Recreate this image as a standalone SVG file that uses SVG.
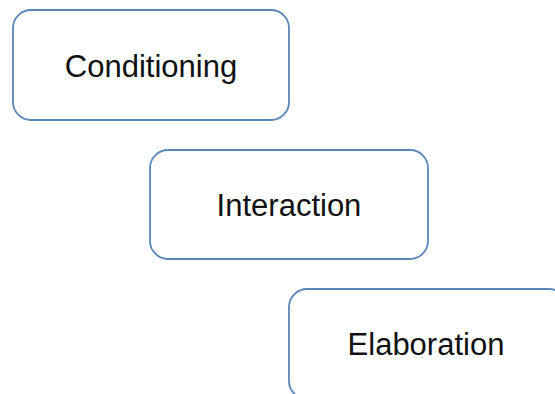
<svg xmlns="http://www.w3.org/2000/svg" width="555" height="394" viewBox="0 0 555 394">
<style>
.box{fill:#ffffff;stroke:#5a86b8;stroke-width:1.8}
.lbl{font-family:"Liberation Sans",Arial,sans-serif;font-size:31px;fill:#111111;text-anchor:middle}
</style>
<rect width="555" height="394" fill="#ffffff"/>
<g id="connectors"></g>
<g id="conditioning">
<rect class="box" x="13" y="10" width="276" height="110" rx="18"/>
<text class="lbl" x="151" y="77">Conditioning</text>
</g>
<g id="interaction">
<rect class="box" x="150" y="150" width="278" height="109" rx="18"/>
<text class="lbl" x="289" y="216">Interaction</text>
</g>
<g id="elaboration">
<rect class="box" x="289" y="289" width="278" height="110" rx="18"/>
<text class="lbl" x="426" y="355">Elaboration</text>
</g>
</svg>
